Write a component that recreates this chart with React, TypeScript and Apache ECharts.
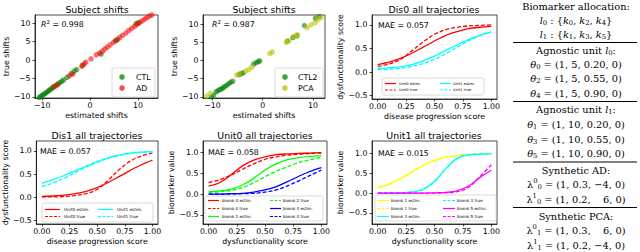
import React, { useEffect, useRef } from "react";
import * as echarts from "echarts";

const F = "DejaVu Sans";
const SERIF = "DejaVu Serif";

// ---------- data ----------
const shiftXTicks = [-10, 0, 10];
const shiftYTicks = [-10, -5, 0, 5, 10];
const scoreTicks = [0, 0.25, 0.5, 0.75, 1];
const valueTicks = [-0.5, 0, 0.5, 1];

const ctlShifts = [[-11.0,-10.4],[-10.6,-10.1],[-10.3,-9.9],[-10.0,-9.6],[-9.7,-9.3],[-9.4,-9.1],[-9.1,-8.8],[-8.8,-8.5],[-8.5,-8.2],[-8.2,-7.9],[-7.9,-7.6],[-7.5,-7.3],[-7.1,-6.9],[-6.7,-6.5],[-6.3,-6.1],[-5.9,-5.8],[-5.5,-5.4],[-4.8,-4.7],[-3.9,-3.7],[-3.3,-3.0],[-2.8,-2.6],[-1.6,-1.4],[2.3,1.6],[5.3,5.2],[5.8,5.6],[9.6,9.8],[10.1,10.1]];
const adShifts = [[-7.6,-7.2],[-6.8,-6.7],[-4.3,-4.3],[-3.6,-3.8],[-1.7,-1.7],[-1.2,-1.1],[-0.9,-0.6],[0.2,0.3],[1.3,1.4],[2.0,1.9],[2.6,2.4],[3.1,3.0],[3.6,3.5],[4.2,4.1],[4.9,4.8],[5.5,5.4],[6.2,6.1],[6.8,6.7],[7.5,7.3],[8.1,8.0],[8.7,8.6],[9.3,9.1],[9.9,9.7],[10.4,10.2],[10.9,10.6],[11.4,11.1],[11.9,11.5],[12.4,11.9],[12.9,12.2],[13.4,12.5]];
const ctl2Shifts = [[-10.2,-10.0],[-9.8,-9.5],[-9.3,-8.6],[-8.9,-8.3],[-8.6,-8.0],[-8.2,-7.8],[-7.9,-7.5],[-7.6,-7.2],[-7.2,-6.8],[-6.8,-6.4],[-6.4,-6.0],[-6.0,-5.7],[-4.7,-3.9],[-4.3,-3.6],[-3.9,-3.4],[-1.8,-1.0],[-1.3,-0.6],[-0.9,-0.3],[-0.6,-0.1],[4.9,5.3],[6.0,6.3],[6.8,6.8],[8.3,9.6],[10.5,11.6],[11.3,12.1]];
const pcaShifts = [[-11.2,-9.8],[-10.5,-9.0],[-5.2,-4.0],[-4.6,-3.6],[-3.4,-2.9],[-2.8,-2.5],[-2.2,-1.9],[1.4,1.9],[1.9,2.3],[4.7,5.0],[5.2,5.4],[6.2,6.6],[6.9,7.1],[8.8,9.0],[9.6,9.8],[10.4,10.4],[11.0,11.2],[11.6,11.8]];

const trajX = [0, 0.1, 0.2, 0.3, 0.4, 0.5, 0.6, 0.7, 0.8, 0.9, 1.0];
const dis0Unit0Est = [0.16,0.21,0.29,0.4,0.53,0.66,0.78,0.86,0.92,0.95,0.97];
const dis0Unit0True = [0.12,0.17,0.27,0.45,0.64,0.8,0.9,0.95,0.98,0.99,1.0];
const dis0Unit1Est = [0.08,0.09,0.11,0.16,0.24,0.34,0.46,0.58,0.69,0.78,0.85];
const dis0Unit1True = [0.05,0.06,0.08,0.12,0.18,0.27,0.39,0.53,0.66,0.77,0.85];
const dis1Unit0Est = [0.02,0.03,0.05,0.08,0.13,0.21,0.32,0.45,0.58,0.7,0.8];
const dis1Unit0True = [0.01,0.01,0.02,0.04,0.08,0.17,0.37,0.6,0.78,0.89,0.95];
const dis1Unit1Est = [0.3,0.38,0.47,0.57,0.67,0.77,0.85,0.91,0.95,0.97,0.98];
const dis1Unit1True = [0.23,0.31,0.41,0.53,0.65,0.75,0.84,0.9,0.94,0.97,0.98];
const b0Est = [0.19,0.28,0.47,0.68,0.82,0.9,0.95,0.97,0.98,0.99,1.0];
const b0True = [0.28,0.35,0.46,0.6,0.73,0.84,0.9,0.94,0.96,0.98,0.99];
const b2Est = [0.06,0.08,0.12,0.22,0.38,0.58,0.73,0.83,0.88,0.91,0.93];
const b2True = [0.04,0.06,0.09,0.16,0.27,0.42,0.55,0.66,0.76,0.83,0.88];
const b4Est = [0.0,0.0,0.01,0.02,0.05,0.1,0.18,0.3,0.43,0.55,0.64];
const b4True = [0.0,0.0,0.0,0.01,0.02,0.05,0.1,0.2,0.32,0.45,0.58];
const b1Est = [0.14,0.23,0.37,0.54,0.7,0.83,0.91,0.95,0.97,0.99,0.99];
const b1True = [0.13,0.22,0.36,0.53,0.7,0.83,0.91,0.95,0.98,0.99,1.0];
const b3Est = [0.0,0.0,0.01,0.03,0.1,0.3,0.62,0.88,0.97,0.99,1.0];
const b3True = [0.0,0.0,0.01,0.03,0.09,0.29,0.62,0.88,0.97,0.99,1.0];
const b5Est = [0,0,0,0,0,0.01,0.02,0.06,0.18,0.4,0.58];
const b5True = [0,0,0,0,0,0,0.01,0.04,0.15,0.42,0.72];

const panelTitles = ["Subject shifts", "Subject shifts", "Dis0 all trajectories", "Dis1 all trajectories", "Unit0 all trajectories", "Unit1 all trajectories"];
const panelNotes = ["{i|R}{p|2} = 0.998", "{i|R}{p|2} = 0.987", "MAE = 0.057", "MAE = 0.057", "MAE = 0.058", "MAE = 0.015"];

const rightLines = [
  "Biomarker allocation:",
  "{i|l}{s|0} : {{i|k}{s|0}, {i|k}{s|2}, {i|k}{s|4}}",
  "{i|l}{s|1} : {{i|k}{s|1}, {i|k}{s|3}, {i|k}{s|5}}",
  "Agnostic unit {i|l}{s|0}:",
  "{i|θ}{s|0} = (1, 5, 0.20, 0)",
  "{i|θ}{s|2} = (1, 5, 0.55, 0)",
  "{i|θ}{s|4} = (1, 5, 0.90, 0)",
  "Agnostic unit {i|l}{s|1}:",
  "{i|θ}{s|1} = (1, 10, 0.20, 0)",
  "{i|θ}{s|3} = (1, 10, 0.55, 0)",
  "{i|θ}{s|5} = (1, 10, 0.90, 0)",
  "Synthetic AD:",
  "λ{z|0}{s|0} = (1, 0.3, −4, 0)",
  "λ{z|1}{s|0} = (1, 0.2,    6, 0)",
  "Synthetic PCA:",
  "λ{z|0}{s|1} = (1, 0.3,    6, 0)",
  "λ{z|1}{s|1} = (1, 0.2, −4, 0)",
];

// ---------- layout ----------
const grids = [
  { left: 35, top: 15, width: 123, height: 83 },
  { left: 203, top: 15, width: 122, height: 83 },
  { left: 372, top: 15, width: 125, height: 84 },
  { left: 35, top: 141, width: 123, height: 83 },
  { left: 203, top: 141, width: 124, height: 83 },
  { left: 372, top: 141, width: 125, height: 83 },
];
const minus = (s: string) => s.replace("-", "\u2212");

function xAxis(gi: number, min: number, max: number, ticks: number[], fmt: (v: number) => string, name: string) {
  return {
    type: "value", gridIndex: gi, min, max, name, nameLocation: "middle", nameGap: 13,
    nameTextStyle: { fontSize: 7.8, color: "#000", fontFamily: F },
    axisLine: { show: true, onZero: false, lineStyle: { color: "#000", width: 0.7 } },
    axisTick: { show: true, length: 2.5, customValues: ticks, lineStyle: { color: "#000", width: 0.7 } },
    axisLabel: { customValues: ticks, formatter: fmt, fontSize: 7.8, color: "#000", fontFamily: F, margin: 3.5 },
    splitLine: { show: false },
  };
}
function yAxis(gi: number, min: number, max: number, ticks: number[], fmt: (v: number) => string, name: string, gap: number) {
  return {
    type: "value", gridIndex: gi, min, max, name, nameLocation: "middle", nameGap: gap,
    nameTextStyle: { fontSize: 7.8, color: "#000", fontFamily: F },
    axisLine: { show: true, onZero: false, lineStyle: { color: "#000", width: 0.7 } },
    axisTick: { show: true, length: 2.5, customValues: ticks, lineStyle: { color: "#000", width: 0.7 } },
    axisLabel: { customValues: ticks, formatter: fmt, fontSize: 7.8, color: "#000", fontFamily: F, margin: 4.5 },
    splitLine: { show: false },
  };
}
const fmtInt = (v: number) => minus(String(Math.round(v)));
const fmt2 = (v: number) => v.toFixed(2);
const fmt1 = (v: number) => minus(v.toFixed(1));

function line(gi: number, name: string, ys: number[], color: string, dashed: boolean) {
  return {
    type: "line", name, xAxisIndex: gi, yAxisIndex: gi, symbol: "none", smooth: 0.35,
    data: trajX.map((x, i) => [x, ys[i]]),
    lineStyle: { color, width: 1.3, type: dashed ? [4, 2] : "solid" },
    z: 3,
  };
}
function scatter(gi: number, name: string, pts: number[][], color: string) {
  return { type: "scatter", name, xAxisIndex: gi, yAxisIndex: gi, data: pts, symbolSize: 5.5, itemStyle: { color }, z: 3 };
}

type LegItem = { name: string; color: string; dashed: boolean };
function curveLegend(box: number[], cols: number[][], rows: number[], lineLen: number, fs: number, items: LegItem[][]) {
  const els: any[] = [{ type: "rect", z: 100, shape: { x: box[0], y: box[1], width: box[2], height: box[3], r: 2 }, style: { fill: "rgba(255,255,255,0.85)", stroke: "#cccccc", lineWidth: 0.7 } }];
  items.forEach((col, ci) => {
    col.forEach((it, ri) => {
      const x0 = cols[ci][0];
      els.push({ type: "line", z: 101, shape: { x1: x0, y1: rows[ri], x2: x0 + lineLen, y2: rows[ri] }, style: { stroke: it.color, lineWidth: 1.2, lineDash: it.dashed ? [3, 1.5] : null } });
      els.push({ type: "text", z: 101, x: cols[ci][1], y: rows[ri], style: { text: it.name, fontSize: fs, fontFamily: F, fill: "#000", align: "left", verticalAlign: "middle" } });
    });
  });
  return els;
}
function scatterLegend(box: number[], mx: number, tx: number, rows: number[], items: { name: string; color: string }[]) {
  const els: any[] = [{ type: "rect", z: 100, shape: { x: box[0], y: box[1], width: box[2], height: box[3], r: 2 }, style: { fill: "rgba(255,255,255,0.85)", stroke: "#cccccc", lineWidth: 0.7 } }];
  items.forEach((it, i) => {
    els.push({ type: "circle", z: 101, shape: { cx: mx, cy: rows[i], r: 2.8 }, style: { fill: it.color } });
    els.push({ type: "text", z: 101, x: tx, y: rows[i], style: { text: it.name, fontSize: 7.8, fontFamily: F, fill: "#000", align: "left", verticalAlign: "middle" } });
  });
  return els;
}

const C_GREEN = "rgba(0,128,0,0.75)";
const C_RED = "rgba(255,0,0,0.7)";
const C_YEL = "rgba(191,191,0,0.75)";

export default function App() {
  const ref = useRef<HTMLDivElement>(null);
  useEffect(() => {
    if (!ref.current) return;
    const chart = echarts.init(ref.current, undefined, { renderer: "svg" });

    const titleCenters = [97, 264, 434, 97, 265, 434];
    const titleYs = [9, 9, 9, 135, 135, 135];
    const noteXs = [41, 212, 378, 40, 208, 378];
    const noteYs = [24, 24, 25, 151, 152, 153];

    const graphic: any[] = [];
    panelTitles.forEach((t, i) => {
      graphic.push({ type: "text", z: 100, x: titleCenters[i], y: titleYs[i], style: { text: t, fontSize: 9.4, fontFamily: F, fill: "#000", align: "center", verticalAlign: "middle" } });
      graphic.push({ type: "text", z: 100, x: noteXs[i], y: noteYs[i], style: { text: panelNotes[i], fontSize: 7.8, lineHeight: 10, fontFamily: F, fill: "#000", align: "left", verticalAlign: "middle", rich: { i: { fontStyle: "italic", fontSize: 7.8, lineHeight: 10, fontFamily: F }, p: { fontSize: 5.5, lineHeight: 10, fontFamily: F, verticalAlign: "top" } } } });
    });

    graphic.push(...scatterLegend([112, 68, 43, 29], 122, 136, [77, 88], [{ name: "CTL", color: C_GREEN }, { name: "AD", color: C_RED }]));
    graphic.push(...scatterLegend([275, 68, 48, 29], 285, 298, [77, 88], [{ name: "CTL2", color: C_GREEN }, { name: "PCA", color: C_YEL }]));

    const unitItems = [
      [{ name: "Unit0 estim.", color: "#ff0000", dashed: false }, { name: "Unit0 true", color: "#ff0000", dashed: true }],
      [{ name: "Unit1 estim.", color: "#00ffff", dashed: false }, { name: "Unit1 true", color: "#00ffff", dashed: true }],
    ];
    graphic.push(...curveLegend([382, 78, 102, 17], [[385, 399], [440, 453]], [83.5, 90], 11, 3.6, unitItems));
    graphic.push(...curveLegend([42, 203, 111, 19], [[45, 64], [98, 117]], [209.5, 216.5], 15, 4.2, unitItems));
    graphic.push(...curveLegend([205, 196, 118, 25], [[208, 222], [270, 283]], [200.5, 208.5, 216.5], 11, 4.0, [
      [{ name: "biomk 0 estim.", color: "#ff0000", dashed: false }, { name: "biomk 0 true", color: "#ff0000", dashed: true }, { name: "biomk 2 estim.", color: "#00ff00", dashed: false }],
      [{ name: "biomk 2 true", color: "#00ff00", dashed: true }, { name: "biomk 4 estim.", color: "#0000ff", dashed: false }, { name: "biomk 4 true", color: "#0000ff", dashed: true }],
    ]));
    graphic.push(...curveLegend([375, 195, 121, 26], [[377, 391], [443, 457]], [200.5, 208.5, 216.5], 12, 4.0, [
      [{ name: "biomk 1 estim.", color: "#ffff00", dashed: false }, { name: "biomk 1 true", color: "#ffff00", dashed: true }, { name: "biomk 3 estim.", color: "#00ffff", dashed: false }],
      [{ name: "biomk 3 true", color: "#00ffff", dashed: true }, { name: "biomk 5 estim.", color: "#ff00ff", dashed: false }, { name: "biomk 5 true", color: "#ff00ff", dashed: true }],
    ]));

    // right column
    const FS = 9.8;
    const LH = 13;
    const rich = {
      i: { fontStyle: "italic", fontSize: FS, lineHeight: LH, fontFamily: SERIF },
      s: { fontSize: 6.8, lineHeight: LH, fontFamily: SERIF, verticalAlign: "bottom" },
      z: { fontSize: 6.8, lineHeight: LH, fontFamily: SERIF, verticalAlign: "top" },
    };
    const rightYs = [6, 20, 34, 50, 64, 78, 93, 109, 124, 139, 153, 170, 184, 199, 216, 230, 245];
    rightLines.forEach((t, i) => {
      graphic.push({ type: "text", z: 100, x: 576, y: rightYs[i], style: { text: t, fontSize: FS, lineHeight: LH, fontFamily: SERIF, fill: "#000", align: "center", verticalAlign: "middle", rich } });
    });
    [42.5, 101.5, 162, 207.5].forEach((y) => {
      graphic.push({ type: "line", z: 100, shape: { x1: 513, y1: y, x2: 637, y2: y }, style: { stroke: "#000", lineWidth: 1 } });
    });

    chart.setOption({
      animation: false,
      grid: grids.map((g) => ({ ...g, show: true, borderColor: "#000", borderWidth: 0.7, backgroundColor: "transparent" })),
      xAxis: [
        xAxis(0, -11.5, 14.2, shiftXTicks, fmtInt, "estimated shifts"),
        xAxis(1, -11.9, 12.4, shiftXTicks, fmtInt, "estimated shifts"),
        xAxis(2, -0.05, 1.05, scoreTicks, fmt2, "disease progression score"),
        xAxis(3, -0.05, 1.05, scoreTicks, fmt2, "disease progression score"),
        xAxis(4, -0.05, 1.05, scoreTicks, fmt2, "dysfunctionality score"),
        xAxis(5, -0.05, 1.05, scoreTicks, fmt2, "dysfunctionality score"),
      ],
      yAxis: [
        yAxis(0, -10.3, 12.2, shiftYTicks, fmtInt, "true shifts", 21),
        yAxis(1, -10.3, 12.5, shiftYTicks, fmtInt, "true shifts", 21),
        yAxis(2, -0.57, 1.21, valueTicks, fmt1, "dysfunctionality score", 24),
        yAxis(3, -0.57, 1.21, valueTicks, fmt1, "dysfunctionality score", 24),
        yAxis(4, -0.72, 1.28, valueTicks, fmt1, "biomarker value", 23),
        yAxis(5, -0.78, 1.32, valueTicks, fmt1, "biomarker value", 23),
      ],
      series: [
        scatter(0, "CTL", ctlShifts, C_GREEN),
        scatter(0, "AD", adShifts, C_RED),
        scatter(1, "CTL2", ctl2Shifts, C_GREEN),
        scatter(1, "PCA", pcaShifts, C_YEL),
        line(2, "Unit0 estim.", dis0Unit0Est, "#ff0000", false),
        line(2, "Unit0 true", dis0Unit0True, "#ff0000", true),
        line(2, "Unit1 estim.", dis0Unit1Est, "#00ffff", false),
        line(2, "Unit1 true", dis0Unit1True, "#00ffff", true),
        line(3, "Unit0 estim.", dis1Unit0Est, "#ff0000", false),
        line(3, "Unit0 true", dis1Unit0True, "#ff0000", true),
        line(3, "Unit1 estim.", dis1Unit1Est, "#00ffff", false),
        line(3, "Unit1 true", dis1Unit1True, "#00ffff", true),
        line(4, "biomk 0 estim.", b0Est, "#ff0000", false),
        line(4, "biomk 0 true", b0True, "#ff0000", true),
        line(4, "biomk 2 estim.", b2Est, "#00ff00", false),
        line(4, "biomk 2 true", b2True, "#00ff00", true),
        line(4, "biomk 4 estim.", b4Est, "#0000ff", false),
        line(4, "biomk 4 true", b4True, "#0000ff", true),
        line(5, "biomk 1 estim.", b1Est, "#ffff00", false),
        line(5, "biomk 1 true", b1True, "#ffff00", true),
        line(5, "biomk 3 estim.", b3Est, "#00ffff", false),
        line(5, "biomk 3 true", b3True, "#00ffff", true),
        line(5, "biomk 5 estim.", b5Est, "#ff00ff", false),
        line(5, "biomk 5 true", b5True, "#ff00ff", true),
      ],
      graphic,
    } as any);
    return () => chart.dispose();
  }, []);
  return <div ref={ref} style={{ position: "fixed", left: 0, top: 0, width: 640, height: 252, background: "#fff" }} />;
}
